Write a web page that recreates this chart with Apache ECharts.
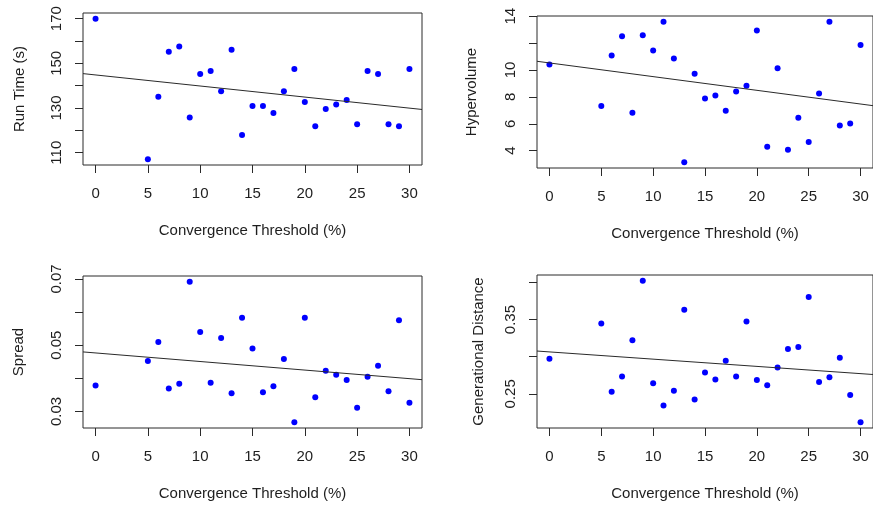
<!DOCTYPE html>
<html>
<head>
<meta charset="utf-8">
<script src="https://cdn.jsdelivr.net/npm/echarts@6/dist/echarts.min.js"></script>
<style>
  html, body { margin: 0; padding: 0; background: #ffffff; }
  #chart { width: 873px; height: 510px; }
</style>
</head>
<body>
<div id="chart"></div>
<script>
// Convergence threshold (%) used for each run
const threshold = [0, 5, 6, 7, 8, 9, 10, 11, 12, 13, 14, 15, 16, 17, 18, 19, 20, 21, 22, 23, 24, 25, 26, 27, 28, 29, 30];

// Measured outcomes per threshold
const runTime = [170, 107, 135, 155.2, 157.5, 125.7, 145.2, 146.6, 137.5, 156.1, 117.9, 130.9, 130.9, 127.8, 137.5, 147.5, 132.7, 121.8, 129.6, 131.6, 133.6, 122.7, 146.6, 145.2, 122.7, 121.8, 147.5];
const hypervolume = [10.41, 7.32, 11.08, 12.51, 6.82, 12.59, 11.45, 13.6, 10.86, 3.13, 9.72, 7.89, 8.11, 6.97, 8.41, 8.83, 12.94, 4.3, 10.14, 4.07, 6.45, 4.64, 8.26, 13.6, 5.88, 6.03, 11.87];
const spread = [0.0378, 0.0452, 0.0510, 0.0369, 0.0384, 0.0692, 0.0540, 0.0387, 0.0522, 0.0355, 0.0583, 0.0490, 0.0358, 0.0376, 0.0458, 0.0267, 0.0583, 0.0343, 0.0423, 0.0411, 0.0395, 0.0311, 0.0405, 0.0438, 0.0361, 0.0575, 0.0326];
const genDistance = [0.2973, 0.3446, 0.2527, 0.2734, 0.3221, 0.4023, 0.2644, 0.2342, 0.2541, 0.3631, 0.2423, 0.2788, 0.2694, 0.2946, 0.2734, 0.3473, 0.2685, 0.2617, 0.2856, 0.3104, 0.3131, 0.3802, 0.2658, 0.2725, 0.2986, 0.2486, 0.2117];

// Tick positions
const xTicks = [0, 5, 10, 15, 20, 25, 30];
const runTimeTicks = [110, 120, 130, 140, 150, 160, 170];
const runTimeLabels = [110, 130, 150, 170];
const hypervolumeTicks = [4, 6, 8, 10, 12, 14];
const hypervolumeLabels = [4, 6, 8, 10, 14];
const spreadTicks = [0.03, 0.04, 0.05, 0.06, 0.07];
const spreadLabels = [0.03, 0.05, 0.07];
const genDistanceTicks = [0.25, 0.30, 0.35, 0.40];
const genDistanceLabels = [0.25, 0.35];

const xTitle = 'Convergence Threshold (%)';

// Axis range: data range extended by 4% on each side
function paddedRange(v) {
  const lo = Math.min(...v), hi = Math.max(...v);
  const d = (hi - lo) * 0.04;
  return [lo - d, hi + d];
}

// Ordinary least squares fit y = a + b x
function fitLine(x, y) {
  const n = x.length;
  const mx = x.reduce((s, v) => s + v, 0) / n;
  const my = y.reduce((s, v) => s + v, 0) / n;
  let sxy = 0, sxx = 0;
  for (let i = 0; i < n; i++) {
    sxy += (x[i] - mx) * (y[i] - my);
    sxx += (x[i] - mx) * (x[i] - mx);
  }
  const b = sxy / sxx;
  return { a: my - b * mx, b: b };
}

const panels = [
  { title: 'Run Time (s)', values: runTime, ticks: runTimeTicks, labels: runTimeLabels, digits: 0,
    grid: { left: 83, top: 13, width: 339, height: 152 }, nameGap: 56 },
  { title: 'Hypervolume', values: hypervolume, ticks: hypervolumeTicks, labels: hypervolumeLabels, digits: 0,
    grid: { left: 537, top: 16, width: 338, height: 152 }, nameGap: 58 },
  { title: 'Spread', values: spread, ticks: spreadTicks, labels: spreadLabels, digits: 2,
    grid: { left: 83, top: 276, width: 339, height: 152 }, nameGap: 57 },
  { title: 'Generational Distance', values: genDistance, ticks: genDistanceTicks, labels: genDistanceLabels, digits: 2,
    grid: { left: 537, top: 275, width: 338, height: 153 }, nameGap: 51 }
];

const font = 'Liberation Sans, Arial, sans-serif';
const ink = '#1e1e1e';
const xRange = paddedRange(threshold);

const grid = [], xAxis = [], yAxis = [], series = [];
panels.forEach((p, i) => {
  grid.push(Object.assign({ show: true, borderColor: '#2a2a2a', borderWidth: 1, backgroundColor: 'transparent', containLabel: false }, p.grid));
  xAxis.push({
    type: 'value', gridIndex: i, min: xRange[0], max: xRange[1], position: 'bottom',
    axisLine: { show: false, onZero: false },
    splitLine: { show: false },
    axisTick: { show: true, inside: false, length: 8, customValues: xTicks, lineStyle: { color: '#2a2a2a', width: 1 } },
    axisLabel: { customValues: xTicks, margin: 21, fontSize: 15, fontFamily: font, color: ink },
    name: xTitle, nameLocation: 'middle', nameGap: 58,
    nameTextStyle: { fontSize: 15, fontFamily: font, color: ink }
  });
  const yr = paddedRange(p.values);
  yAxis.push({
    type: 'value', gridIndex: i, min: yr[0], max: yr[1], position: 'left',
    axisLine: { show: false, onZero: false },
    splitLine: { show: false },
    axisTick: { show: true, inside: false, length: 8, customValues: p.ticks, lineStyle: { color: '#2a2a2a', width: 1 } },
    axisLabel: { customValues: p.labels, rotate: 90, margin: 19, fontSize: 15, fontFamily: font, color: ink,
      formatter: (v) => Number(v).toFixed(p.digits) },
    name: p.title, nameLocation: 'middle', nameGap: p.nameGap, nameRotate: 90,
    nameTextStyle: { fontSize: 15, fontFamily: font, color: ink }
  });
  series.push({
    type: 'scatter', xAxisIndex: i, yAxisIndex: i, symbol: 'circle', symbolSize: 6,
    itemStyle: { color: '#0000ff', opacity: 1 }, silent: true, animation: false,
    data: threshold.map((x, k) => [x, p.values[k]])
  });
  const fit = fitLine(threshold, p.values);
  series.push({
    type: 'line', xAxisIndex: i, yAxisIndex: i, symbol: 'none', silent: true, animation: false, clip: true,
    lineStyle: { color: '#2a2a2a', width: 1 },
    data: xRange.map(x => [x, fit.a + fit.b * x])
  });
});

const chart = echarts.init(document.getElementById('chart'), null, { renderer: 'canvas' });
chart.setOption({ backgroundColor: '#ffffff', animation: false, grid, xAxis, yAxis, series });
</script>
</body>
</html>
